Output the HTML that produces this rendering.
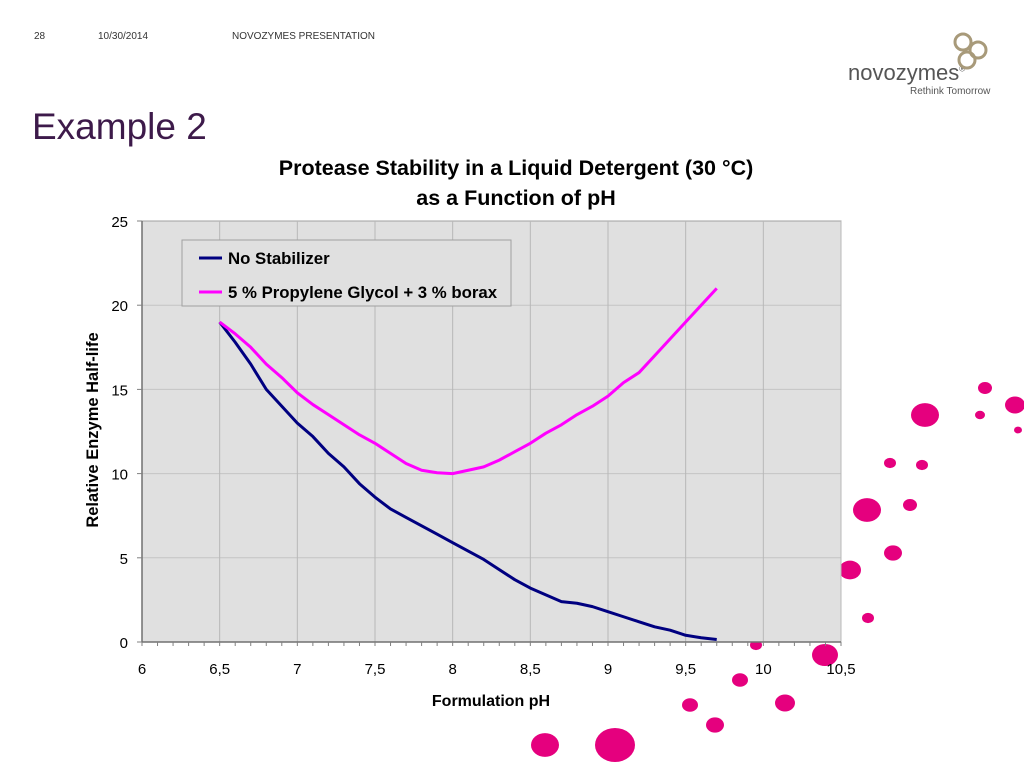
<!DOCTYPE html>
<html><head><meta charset="utf-8"><style>
body{margin:0;width:1024px;height:768px;background:#fff;position:relative;overflow:hidden;font-family:"Liberation Sans",sans-serif}
.t{position:absolute;white-space:nowrap}
</style></head><body>
<div class="t" style="left:34px;top:31px;font-size:10px;color:#333">28</div>
<div class="t" style="left:98px;top:31px;font-size:10px;color:#333">10/30/2014</div>
<div class="t" style="left:232px;top:31px;font-size:10px;color:#333">NOVOZYMES PRESENTATION</div>
<div class="t" style="left:848px;top:60px;font-size:22px;color:#555">novozymes<sup style="font-size:8px">®</sup></div>
<div class="t" style="left:910px;top:86px;font-size:10px;color:#555">Rethink Tomorrow</div>
<svg style="position:absolute;left:945px;top:28px" width="50" height="50"><g fill="none" stroke="#a89a7a" stroke-width="3"><circle cx="18" cy="14" r="8"/><circle cx="33" cy="22" r="8"/><circle cx="22" cy="32" r="8"/></g></svg>
<div class="t" style="left:32px;top:106px;font-size:37px;color:#3d1a4a">Example 2</div>
<svg id="deco" style="position:absolute;left:0;top:0" width="1024" height="768"></svg>
<svg id="c" style="position:absolute;left:0;top:0" width="1024" height="768"></svg>
<script>
const xTicks=[6,6.5,7,7.5,8,8.5,9,9.5,10,10.5];
const xTickLabels=["6","6,5","7","7,5","8","8,5","9","9,5","10","10,5"];
const yTicks=[0,5,10,15,20,25];
const phValues=[6.5,6.6,6.7,6.8,6.9,7,7.1,7.2,7.3,7.4,7.5,7.6,7.7,7.8,7.9,8,8.1,8.2,8.3,8.4,8.5,8.6,8.7,8.8,8.9,9,9.1,9.2,9.3,9.4,9.5,9.6,9.7];
const noStabilizer=[19,17.8,16.5,15,14,13,12.2,11.2,10.4,9.4,8.6,7.9,7.4,6.9,6.4,5.9,5.4,4.9,4.3,3.7,3.2,2.8,2.4,2.3,2.1,1.8,1.5,1.2,0.9,0.7,0.4,0.25,0.15];
const glycolBorax=[19,18.3,17.5,16.5,15.7,14.8,14.1,13.5,12.9,12.3,11.8,11.2,10.6,10.2,10.05,10,10.2,10.4,10.8,11.3,11.8,12.4,12.9,13.5,14,14.6,15.4,16,17,18,19,20,21];
const NS='http://www.w3.org/2000/svg';
const L=142,R=841,T=221,B=642;
const sx=v=>L+(v-6)/4.5*(R-L), sy=v=>B-v/25*(B-T);
const svg=document.getElementById('c');
function mk(tag,a,p){const e=document.createElementNS(NS,tag);for(const k in a)e.setAttribute(k,a[k]);(p||svg).appendChild(e);return e;}
const deco=document.getElementById('deco');
const fl=[[925,415,14],[985,388,7],[1015,405,10],[890,463,6],[922,465,6],[867,510,14],[910,505,7],[893,553,9],[850,570,11],[868,618,6],[825,655,13],[756,645,6],[740,680,8],[785,703,10],[690,705,8],[715,725,9],[615,745,20],[545,745,14],[980,415,5],[1018,430,4]];
fl.forEach(f=>{const c=mk('ellipse',{cx:f[0],cy:f[1],rx:f[2],ry:f[2]*0.85,fill:'#e5007e'},deco);});
let t=mk('text',{x:516,y:175,'text-anchor':'middle','font-size':21.5,'font-weight':'bold',fill:'#000'});t.textContent='Protease Stability in a Liquid Detergent (30 °C)';
t=mk('text',{x:516,y:205,'text-anchor':'middle','font-size':21.5,'font-weight':'bold',fill:'#000'});t.textContent='as a Function of pH';
let r=mk('rect',{x:L,y:T,width:R-L,height:B-T,fill:'#e0e0e0',stroke:'#a0a0a0'});
yTicks.forEach(v=>{if(v>0&&v<25){const g=mk('line',{x1:L,x2:R,y1:sy(v),y2:sy(v),stroke:'#c4c4c4','stroke-width':1});}});
xTicks.forEach((v,i)=>{if(i>0){const g=mk('line',{x1:sx(v),x2:sx(v),y1:T,y2:B,stroke:'#b8b8b8','stroke-width':1});}
 const l=mk('text',{x:sx(v),y:674,'text-anchor':'middle','font-size':15,fill:'#000'});l.textContent=xTickLabels[i];});
let ax=mk('line',{x1:L,x2:L,y1:T,y2:B,stroke:'#707070','stroke-width':1.5});
ax=mk('line',{x1:L,x2:R,y1:B,y2:B,stroke:'#707070','stroke-width':1.5});
for(let v=6;v<=10.5001;v+=0.1){const m=mk('line',{x1:sx(v),x2:sx(v),y1:B,y2:B+4,stroke:'#808080'});}
yTicks.forEach(v=>{const l=mk('text',{x:128,y:sy(v)+6,'text-anchor':'end','font-size':15,fill:'#000'});l.textContent=v;
 const m=mk('line',{x1:L-5,x2:L,y1:sy(v),y2:sy(v),stroke:'#808080'});});
t=mk('text',{x:491,y:706,'text-anchor':'middle','font-size':16,'font-weight':'bold'});t.textContent='Formulation pH';
t=mk('text',{x:98,y:430,'text-anchor':'middle','font-size':16.5,'font-weight':'bold',transform:'rotate(-90 98 430)'});t.textContent='Relative Enzyme Half-life';
function line(vals,col,name){const p=mk('polyline',{points:phValues.map((x,i)=>sx(x)+','+sy(vals[i])).join(' '),fill:'none',stroke:col,'stroke-width':3,'stroke-linejoin':'round'});}
line(noStabilizer,'#000080','series-no-stabilizer');
line(glycolBorax,'#ff00ff','series-glycol-borax');
r=mk('rect',{x:182,y:240,width:329,height:66,fill:'#e0e0e0',stroke:'#a0a0a0'});
[['No Stabilizer','#000080',258],['5 % Propylene Glycol + 3 % borax','#ff00ff',292]].forEach(e=>{
 const l=mk('line',{x1:199,x2:222,y1:e[2],y2:e[2],stroke:e[1],'stroke-width':3});
 const tx=mk('text',{x:228,y:e[2]+6,'font-size':16.8,'font-weight':'bold'});tx.textContent=e[0];});
</script>
</body></html>
